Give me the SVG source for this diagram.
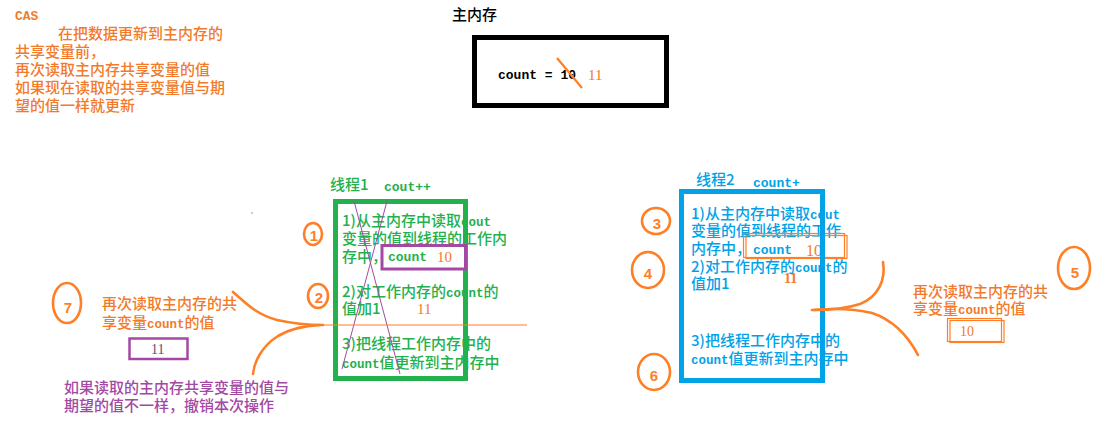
<svg xmlns="http://www.w3.org/2000/svg" width="1102" height="436" viewBox="0 0 1102 436">
<style>
text{font-family:"Noto Sans CJK SC","Noto Sans",sans-serif;font-size:15px;font-weight:500}
.m{font-family:"Liberation Mono","Noto Sans CJK SC",monospace;font-weight:bold;font-size:12.5px}
.or{fill:#f27a2a}
.gr{fill:#22b14c}
.bl{fill:#00a2e8}
.pu{fill:#a349a4}
.bk{fill:#000}
.num{font-family:"Liberation Serif",serif;font-size:15px;font-weight:normal;fill:#f27a2a}
.circ{fill:none;stroke:#ff7f27;stroke-width:2.6}
.dig{font-family:"Liberation Sans",sans-serif;font-weight:bold;fill:#ff7f27;text-anchor:middle}
.curve{fill:none;stroke:#ff7f27;stroke-width:2.6;stroke-linecap:round}
.thin{fill:none;stroke:#ff7f27;stroke-width:1.2}
.pline{stroke:#a349a4;stroke-width:1;fill:none}
</style>
<rect width="1102" height="436" fill="#fff"/>

<g id="cas-note">
<text x="15" y="20" class="m or" style="font-size:13px">CAS</text>
<text x="58" y="39" class="or">在把数据更新到主内存的</text>
<text x="15" y="57" class="or">共享变量前，</text>
<text x="15" y="75" class="or">再次读取主内存共享变量的值</text>
<text x="15" y="93" class="or">如果现在读取的共享变量值与期</text>
<text x="15" y="111" class="or">望的值一样就更新</text>
</g>

<g id="main-memory">
<text x="452" y="20" class="bk">主内存</text>
<rect x="474.5" y="37.5" width="192" height="68" fill="none" stroke="#000" stroke-width="5"/>
<text x="498" y="79" class="m bk" style="font-size:13px">count = 10</text>
<line x1="557" y1="58" x2="582" y2="88" stroke="#ff7f27" stroke-width="2.2"/>
<text x="588" y="80" class="num">11</text>
</g>

<g id="thread1">
<text x="330" y="190" class="gr">线程1</text>
<text x="384" y="191" class="m gr" style="font-size:13px">cout++</text>
<text x="342" y="226" class="gr">1)从主内存中读取<tspan class="m">cout</tspan></text>
<text x="342" y="244" class="gr">变量的值到线程的工作内</text>
<text x="342" y="262" class="gr">存中，</text>
<text x="342" y="297" class="gr">2)对工作内存的<tspan class="m">count</tspan>的</text>
<text x="342" y="314" class="gr">值加1</text>
<text x="417" y="314" class="num">11</text>
<text x="342" y="349" class="gr">3)把线程工作内存中的</text>
<text x="342" y="368" class="gr"><tspan class="m">count</tspan>值更新到主内存中</text>
<rect x="335.5" y="201.5" width="130" height="177" fill="none" stroke="#22b14c" stroke-width="5"/>
<rect x="382" y="245.5" width="83.5" height="23.5" fill="#fff" stroke="#a349a4" stroke-width="3"/>
<text x="388" y="261" class="m" style="font-size:13px;fill:#22b14c">count</text>
<text x="437" y="262" class="num">10</text>
<line x1="387" y1="201" x2="342" y2="369" class="pline"/>
<line x1="354" y1="201" x2="400" y2="374" class="pline"/>
</g>

<g id="thread2">
<text x="696" y="185" class="bl">线程2</text>
<text x="753" y="187" class="m bl" style="font-size:13px">count+</text>
<text x="691" y="219" class="bl">1)从主内存中读取<tspan class="m">cout</tspan></text>
<text x="691" y="236" class="bl">变量的值到线程的工作</text>
<text x="691" y="254" class="bl">内存中，</text>
<text x="691" y="272" class="bl">2)对工作内存的<tspan class="m">count</tspan>的</text>
<text x="691" y="289" class="bl">值加1</text>
<text x="691" y="346" class="bl">3)把线程工作内存中的</text>
<text x="691" y="364" class="bl"><tspan class="m">count</tspan>值更新到主内存中</text>
<rect x="743.5" y="233.5" width="101" height="24" fill="#fff" class="thin"/>
<rect x="746" y="235.5" width="101" height="23" class="thin"/>
<text x="753" y="254" class="m bl" style="font-size:13px">count</text>
<text x="806" y="256" class="num" style="font-size:16px">10</text>
<text x="784" y="283" class="num" style="font-weight:bold;font-size:14px">11</text>
<rect x="681.5" y="191.5" width="141" height="189" fill="none" stroke="#00a2e8" stroke-width="5"/>
</g>

<g id="left-note">
<text x="102" y="309" class="or">再次读取主内存的共</text>
<text x="102" y="328" class="or">享变量<tspan class="m">count</tspan>的值</text>
<rect x="129.5" y="338.5" width="58" height="20.5" fill="none" stroke="#a349a4" stroke-width="2.5"/>
<text x="151" y="354" class="num" style="fill:#6a4a78;font-size:14px">11</text>
<text x="64" y="393" class="pu">如果读取的主内存共享变量的值与</text>
<text x="64" y="411" class="pu">期望的值不一样，撤销本次操作</text>
</g>

<g id="right-note">
<text x="913" y="297" class="or">再次读取主内存的共</text>
<text x="913" y="314" class="or">享变量<tspan class="m">count</tspan>的值</text>
<rect x="947.5" y="318.5" width="54" height="23" class="thin"/>
<rect x="950" y="320.5" width="54" height="22" class="thin"/>
<text x="960" y="336" class="num" style="font-size:14px">10</text>
</g>

<g id="step-markers">
<ellipse cx="313" cy="234" rx="9" ry="11" class="circ"/>
<text x="314" y="241" class="dig" font-size="18">1</text>
<ellipse cx="318" cy="296" rx="10" ry="12" class="circ"/>
<text x="319" y="303" class="dig" font-size="18">2</text>
<ellipse cx="67" cy="303" rx="14" ry="20" class="circ"/>
<text x="68" y="313" class="dig" font-size="26">7</text>
<ellipse cx="656" cy="221" rx="14" ry="13" class="circ"/>
<text x="657" y="229" class="dig" font-size="21">3</text>
<ellipse cx="648" cy="270" rx="16" ry="18" class="circ"/>
<text x="648" y="279" class="dig" font-size="24">4</text>
<ellipse cx="654" cy="372" rx="16" ry="18" class="circ"/>
<text x="654" y="381" class="dig" font-size="24">6</text>
<ellipse cx="1074" cy="268" rx="16" ry="21" class="circ"/>
<text x="1075" y="278" class="dig" font-size="26">5</text>
<circle cx="252" cy="213" r="0.8" fill="#888"/>
</g>

<g id="connectors">
<line x1="320" y1="325" x2="527" y2="325" stroke="#ff7f27" stroke-width="1"/>
<path d="M233 292 C245 302 255 314 277 320 C295 324 310 325 323 325" class="curve"/>
<path d="M253 374 C254 362 262 346 278 336 C292 328 305 326 320 325" class="curve"/>
<path d="M883 262 C886 280 878 297 860 304 C845 309 830 310 812 310" class="curve"/>
<path d="M814 310 C835 308 855 309 872 313 C893 320 907 334 918 355" class="curve"/>
</g>
</svg>
